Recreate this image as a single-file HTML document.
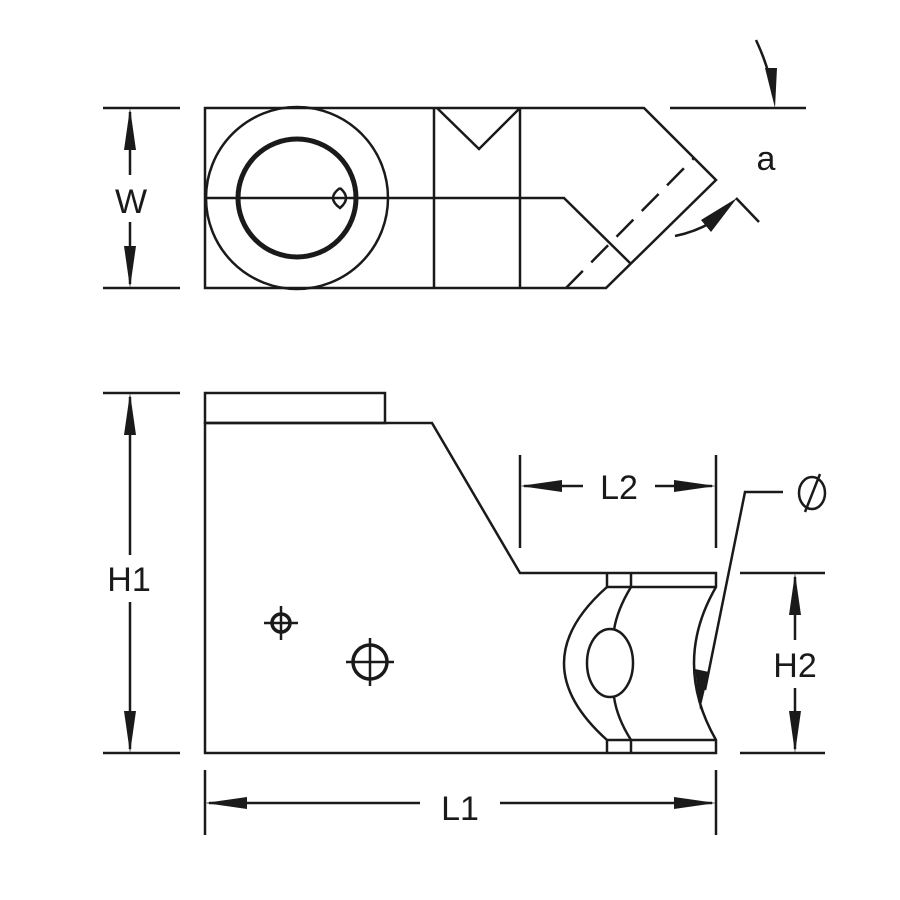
<!DOCTYPE html>
<html><head><style>body{margin:0;background:#fff}svg{display:block}</style></head><body>
<svg width="900" height="900" viewBox="0 0 900 900" xmlns="http://www.w3.org/2000/svg">
<g fill="none" stroke="#1a1a1a" stroke-width="2.5" stroke-linejoin="miter">
<path d="M205,108 H644 L716,180 L606,288 H205 Z"/>
<path d="M437,108 L479,149 L520,108"/>
<line x1="434" y1="108" x2="434" y2="288"/>
<line x1="520" y1="108" x2="520" y2="288"/>
<path d="M205,198 H564 L630,263"/>
<line x1="566" y1="288" x2="694" y2="158" stroke-dasharray="24,12"/>
<circle cx="297" cy="198" r="91"/>
<circle cx="297" cy="198" r="59" stroke-width="5"/>
<path d="M340,188 Q326,198 340,208 Q352,198 340,188"/>
<line x1="670" y1="108" x2="806" y2="108"/>
<path d="M756,40 Q770,70 773,95"/>
<path d="M675,236 Q695,232 712,222"/>
<path d="M736,198 L759,222"/>
<line x1="103" y1="108" x2="180" y2="108"/>
<line x1="103" y1="288" x2="180" y2="288"/>
<line x1="130" y1="112" x2="130" y2="175"/>
<line x1="130" y1="222" x2="130" y2="284"/>
<rect x="205" y="393" width="180" height="30"/>
<path d="M205,423 H432 L520,573 H716 V587 Q672,663 716,740 V753 H205 Z"/>
<line x1="607" y1="573" x2="607" y2="587"/>
<line x1="607" y1="740" x2="607" y2="753"/>
<line x1="631" y1="573" x2="631" y2="587"/>
<line x1="631" y1="740" x2="631" y2="753"/>
<line x1="607" y1="587" x2="716" y2="587"/>
<line x1="607" y1="740" x2="716" y2="740"/>
<path d="M607,587 Q521,663 607,740"/>
<path d="M631,587 Q617,610 614,630"/>
<path d="M614,697 Q617,718 631,740"/>
<ellipse cx="610" cy="663" rx="23" ry="34"/>
<circle cx="281" cy="623" r="9" stroke-width="3.5"/>
<path d="M264,623 H298 M281,606 V640 M276,623 H286 M281,618 V628"/>
<circle cx="370" cy="662" r="17" stroke-width="3.5"/>
<path d="M346,662 H394 M370,638 V686"/>
<line x1="103" y1="393" x2="180" y2="393"/>
<line x1="103" y1="753" x2="180" y2="753"/>
<line x1="130" y1="397" x2="130" y2="555"/>
<line x1="130" y1="602" x2="130" y2="749"/>
<line x1="520" y1="455" x2="520" y2="548"/>
<line x1="716" y1="455" x2="716" y2="548"/>
<line x1="524" y1="486" x2="583" y2="486"/>
<line x1="655" y1="486" x2="712" y2="486"/>
<path d="M783,492 H745 L705,690"/>
<line x1="740" y1="573" x2="825" y2="573"/>
<line x1="740" y1="753" x2="825" y2="753"/>
<line x1="795" y1="577" x2="795" y2="640"/>
<line x1="795" y1="688" x2="795" y2="749"/>
<line x1="205" y1="770" x2="205" y2="835"/>
<line x1="716" y1="770" x2="716" y2="835"/>
<line x1="209" y1="803" x2="420" y2="803"/>
<line x1="500" y1="803" x2="712" y2="803"/>
<ellipse cx="812" cy="493" rx="13" ry="16"/>
<line x1="820" y1="474" x2="805" y2="512"/>
</g>
<g fill="#1a1a1a">
<polygon points="130,108 124,150 136,150"/>
<polygon points="130,288 124,246 136,246"/>
<polygon points="130,393 124,435 136,435"/>
<polygon points="130,753 124,711 136,711"/>
<polygon points="520,486 562,480 562,492"/>
<polygon points="716,486 674,480 674,492"/>
<polygon points="795,573 789,615 801,615"/>
<polygon points="795,753 789,711 801,711"/>
<polygon points="205,803 247,797 247,809"/>
<polygon points="716,803 674,797 674,809"/>
<polygon points="700,710 695,669 709,672"/>
<polygon points="775,108 765,68 777,68"/>
<polygon points="737,198 701,220 711,232"/>
</g>
<g font-family="Liberation Sans, sans-serif" font-size="34" fill="#1a1a1a" text-anchor="middle">
<text x="131" y="213">W</text>
<text x="766" y="170" font-size="34">a</text>
<text x="129" y="591">H1</text>
<text x="619" y="499">L2</text>
<text x="795" y="677">H2</text>
<text x="460" y="820">L1</text>
</g>
</svg>
</body></html>
